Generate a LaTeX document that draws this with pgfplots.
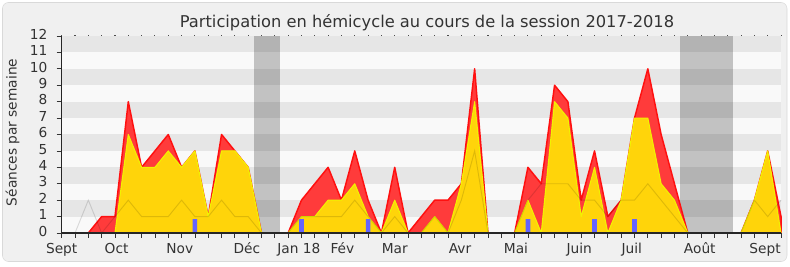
\documentclass[border=0pt]{standalone}
\usepackage{fontspec}
\setmainfont{DejaVu Sans}
\usepackage{pgfplots}
\pgfplotsset{compat=1.18}
\definecolor{bandA}{HTML}{E6E6E6}
\definecolor{bandB}{HTML}{F9F9F9}
\definecolor{bgc}{HTML}{F0F0F0}
\definecolor{redfill}{HTML}{FF3B3B}
\definecolor{redline}{HTML}{FF1010}
\definecolor{yelfill}{HTML}{FFD40A}
\definecolor{yelline}{HTML}{F2F200}
\definecolor{bluebar}{HTML}{6464FF}
\definecolor{txt}{HTML}{333333}
\begin{document}
\begin{tikzpicture}[x=0.75pt,y=0.75pt]
\path[use as bounding box] (0,0) rectangle (790,267);
\draw[draw=black!15, fill=bgc, rounded corners=4.5pt] (2.5,5.5) rectangle (787,264.5);
\node[anchor=base, font=\fontsize{12.2}{14}\selectfont, text=txt, inner sep=0pt] at (427,239.7) {Participation en hémicycle au cours de la session 2017-2018};
\node[rotate=90, font=\fontsize{10.3}{12}\selectfont, text=txt] at (12.5,134.5) {Séances par semaine};
\begin{axis}[
  at={(46.275pt,25.5pt)}, anchor=south west,
  scale only axis, width=539.5pt, height=147.75pt,
  xmin=0, xmax=54, ymin=0, ymax=12,
  axis lines*=left, axis line style={-, black!85, line width=0.9pt},
  axis on top,
  axis background/.style={fill=bandB},
  tick align=outside,
  major tick length=3.75pt, minor tick length=3.75pt,
  tick style={black!80, line width=0.6pt},
  ytick={0,...,12},
  xtick={0,4.12,8.87,13.9,17.8,21.07,25.0,29.9,34.1,38.85,42.8,47.9,52.8},
  xticklabels={Sept,Oct,Nov,Déc,Jan 18,Fév,Mar,Avr,Mai,Juin,Juil,Août,Sept},
  major x tick style={draw=none},
  minor xtick={0,...,54},
  ticklabel style={font=\fontsize{10.3}{12}\selectfont, text=txt},
  yticklabel style={xshift=-3.5pt},
  /pgf/number format/assume math mode=true,
  typeset ticklabels with strut,
  clip=false,
]
\fill[bandA] (axis cs:0,1) rectangle (axis cs:54,2);
\fill[bandA] (axis cs:0,3) rectangle (axis cs:54,4);
\fill[bandA] (axis cs:0,5) rectangle (axis cs:54,6);
\fill[bandA] (axis cs:0,7) rectangle (axis cs:54,8);
\fill[bandA] (axis cs:0,9) rectangle (axis cs:54,10);
\fill[bandA] (axis cs:0,11) rectangle (axis cs:54,12);
\fill[black, opacity=0.22] (axis cs:14.4,0) rectangle (axis cs:16.4,12);
\fill[black, opacity=0.22] (axis cs:46.4,0) rectangle (axis cs:50.4,12);
\pgfplotsinvokeforeach{0,...,54}{\fill[black!70] (axis cs:#1,12) ++(-0.4pt,0.2pt) rectangle ++(0.8pt,0.8pt);}
% total
\addplot[fill=redfill, draw=redline, line width=1.1pt, line join=round] coordinates {
(0,0)(1,0)(2,0)(3,1)(4,1)(5,8)(6,4)(7,5)(8,6)(9,4)(10,5)(11,1)(12,6)(13,5)(14,4)(15,0)(16,0)(17,0)(18,2)(19,3)(20,4)(21,2)(22,5)(23,2)(24,0)(25,4)(26,0)(27,1)(28,2)(29,2)(30,3)(31,10)(32,0)(33,0)(34,0)(35,4)(36,3)(37,9)(38,8)(39,2)(40,5)(41,1)(42,2)(43,7)(44,10)(45,6)(46,3)(47,0)(48,0)(49,0)(50,0)(51,0)(52,2)(53,5)(54,1)
} \closedcycle;
% hemicycle
\addplot[fill=yelfill, draw=yelline, line width=0.8pt, line join=round] coordinates {
(0,0)(1,0)(2,0)(3,0)(4,0)(5,6)(6,4)(7,4)(8,5)(9,4)(10,5)(11,1)(12,5)(13,5)(14,4)(15,0)(16,0)(17,0)(18,1)(19,1)(20,2)(21,2)(22,3)(23,1)(24,0)(25,2)(26,0)(27,0)(28,1)(29,0)(30,3)(31,8)(32,0)(33,0)(34,0)(35,2)(36,0)(37,8)(38,7)(39,1)(40,4)(41,0)(42,2)(43,7)(44,7)(45,3)(46,2)(47,0)(48,0)(49,0)(50,0)(51,0)(52,2)(53,5)(54,0)
} \closedcycle;
% median
\addplot[draw=black, opacity=0.13, line width=0.7pt] coordinates {
(0,0)(1,0)(2,2)(3,0)(4,1)(5,2)(6,1)(7,1)(8,1)(9,2)(10,1)(11,1)(12,2)(13,1)(14,1)(15,0)(16,0)(17,0)(18,1)(19,1)(20,1)(21,1)(22,2)(23,1)(24,0)(25,1)(26,0)(27,0)(28,1)(29,0)(30,2)(31,5)(32,0)(33,0)(34,0)(35,2)(36,3)(37,3)(38,3)(39,2)(40,2)(41,1)(42,2)(43,2)(44,3)(45,2)(46,1)(47,0)(48,0)(49,0)(50,0)(51,0)(52,2)(53,1)(54,2)
};
% questions
\addplot[ybar, bar shift=0pt, bar width=0.35, fill=bluebar, draw=none] coordinates {
(10,0.85)(18,0.85)(23,0.85)(35,0.85)(40,0.85)(43,0.85)
};
\end{axis}
\end{tikzpicture}
\end{document}
